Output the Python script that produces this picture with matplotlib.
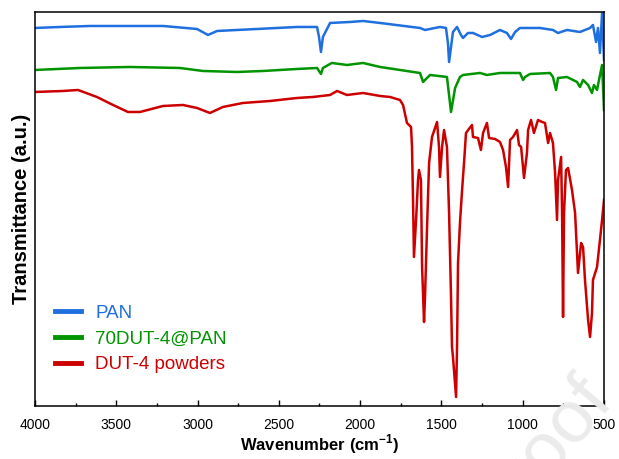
import matplotlib.pyplot as plt
from matplotlib.ticker import MultipleLocator

# wavenumber (cm-1) / transmittance (a.u., offset)
pan_wn = [4000, 3846, 3662, 3213, 3003, 2936, 2880, 2634, 2388, 2265, 2253, 2241,
          2229, 2185, 2062, 1982, 1877, 1632, 1601, 1509, 1472, 1460, 1453, 1441,
          1429, 1404, 1380, 1367, 1337, 1306, 1250, 1201, 1140, 1097, 1072, 1047,
          1017, 894, 814, 783, 728, 648, 586, 568, 549, 537, 525, 512, 500]
pan_t = [3.78, 3.79, 3.80, 3.80, 3.77, 3.71, 3.75, 3.77, 3.79, 3.79, 3.69, 3.54,
         3.69, 3.83, 3.84, 3.85, 3.83, 3.78, 3.76, 3.79, 3.78, 3.63, 3.44, 3.59,
         3.74, 3.79, 3.71, 3.68, 3.73, 3.73, 3.69, 3.71, 3.76, 3.73, 3.67, 3.74,
         3.78, 3.78, 3.76, 3.73, 3.76, 3.74, 3.78, 3.81, 3.64, 3.78, 3.53, 3.93, 3.46]

mix_wn = [4000, 3723, 3416, 3108, 2967, 2757, 2598, 2388, 2265, 2241, 2229, 2174,
          2081, 1982, 1877, 1632, 1613, 1589, 1570, 1466, 1441, 1416, 1386, 1367,
          1263, 1220, 1140, 1017, 998, 986, 955, 832, 814, 795, 783, 728, 666, 648,
          629, 598, 574, 562, 543, 531, 512, 500]
mix_t = [3.36, 3.38, 3.39, 3.38, 3.35, 3.34, 3.35, 3.37, 3.38, 3.32, 3.38, 3.43,
         3.41, 3.43, 3.39, 3.33, 3.24, 3.28, 3.31, 3.29, 2.94, 3.18, 3.29, 3.31,
         3.33, 3.31, 3.33, 3.33, 3.26, 3.29, 3.32, 3.33, 3.29, 3.16, 3.28, 3.29,
         3.24, 3.19, 3.26, 3.21, 3.13, 3.21, 3.16, 3.26, 3.41, 2.96]

dut_wn = [4000, 3828, 3735, 3619, 3520, 3428, 3354, 3213, 3090, 3003, 2924, 2844,
          2721, 2554, 2388, 2290, 2185, 2142, 2081, 1982, 1877, 1816, 1755, 1736,
          1712, 1687, 1681, 1675, 1669, 1656, 1644, 1638, 1626, 1619, 1607, 1601,
          1589, 1576, 1558, 1527, 1515, 1509, 1496, 1484, 1466, 1453, 1441, 1435,
          1429, 1410, 1404, 1398, 1386, 1373, 1361, 1349, 1312, 1306, 1275, 1257,
          1244, 1220, 1207, 1170, 1140, 1121, 1103, 1090, 1078, 1060, 1035, 1023,
          1010, 992, 974, 967, 949, 931, 906, 881, 863, 844, 832, 814, 801, 789,
          783, 764, 758, 752, 746, 734, 721, 697, 678, 660, 641, 629, 617, 598,
          586, 574, 568, 543, 525, 512, 500]
dut_t = [3.14, 3.15, 3.16, 3.09, 3.01, 2.94, 2.94, 3.00, 3.01, 2.98, 2.93, 2.99,
         3.03, 3.05, 3.08, 3.09, 3.11, 3.15, 3.11, 3.13, 3.10, 3.09, 3.06, 3.01,
         2.83, 2.79, 2.59, 2.09, 1.49, 1.86, 2.26, 2.36, 2.26, 1.39, 0.84, 1.09,
         1.76, 2.43, 2.69, 2.84, 2.59, 2.29, 2.59, 2.76, 2.59, 1.93, 1.09, 0.59,
         0.49, 0.09, 0.59, 1.43, 1.83, 2.16, 2.43, 2.73, 2.81, 2.69, 2.68, 2.56,
         2.73, 2.83, 2.68, 2.67, 2.64, 2.56, 2.39, 2.19, 2.66, 2.69, 2.76, 2.61,
         2.59, 2.28, 2.53, 2.76, 2.86, 2.73, 2.86, 2.84, 2.83, 2.63, 2.73, 2.63,
         2.33, 1.86, 2.26, 2.49, 1.93, 0.89, 1.93, 2.36, 2.38, 2.16, 1.93, 1.33,
         1.63, 1.59, 1.26, 0.86, 0.69, 0.93, 1.26, 1.39, 1.66, 1.86, 2.06]

labels = ['PAN', '70DUT-4@PAN', 'DUT-4 powders']
colors = ['#1f6fdf', '#009400', '#cc0000']

plt.rcParams['font.family'] = ['Liberation Sans', 'DejaVu Sans']

fig = plt.figure(figsize=(6.19, 4.59), dpi=100)
ax = fig.add_axes([0.0565, 0.1155, 0.9193, 0.8584])

# journal watermark
fig.text(0.99, 0.135, 'Pre-proof', rotation=50, rotation_mode='anchor',
         ha='right', va='baseline', fontsize=54, color='#ebebeb', zorder=0)
ax.patch.set_alpha(0)

for wn, t, lab, c in zip([pan_wn, mix_wn, dut_wn], [pan_t, mix_t, dut_t],
                         labels, colors):
    ax.plot(wn, t, color=c, lw=1.8, label=lab)

ax.set_xlim(4000, 500)
ax.set_ylim(0, 3.94)
ax.xaxis.set_major_locator(MultipleLocator(500))
ax.xaxis.set_minor_locator(MultipleLocator(250))
ax.set_yticks([])
ax.tick_params(axis='x', which='major', direction='in', length=4, width=1,
               labelsize=10, pad=9)
ax.tick_params(axis='x', which='minor', direction='in', length=2.5, width=1)
for s in ax.spines.values():
    s.set_linewidth(1.1)

ax.set_xlabel('Wavenumber (cm$^{\\mathregular{-1}}$)', fontsize=12,
              fontweight='bold', labelpad=0)
ax.set_ylabel('Transmittance (a.u.)', fontsize=14.5, fontweight='bold',
              labelpad=3)

leg = ax.legend(loc='lower left', bbox_to_anchor=(0.012, 0.05), frameon=False,
                fontsize=13.5, handlelength=1.4, handletextpad=0.75,
                labelspacing=0.45, borderaxespad=0.3)
for h in leg.get_lines():
    h.set_linewidth(3.5)
for txt, c in zip(leg.get_texts(), colors):
    txt.set_color(c)

fig.savefig('out.png', dpi=100)
